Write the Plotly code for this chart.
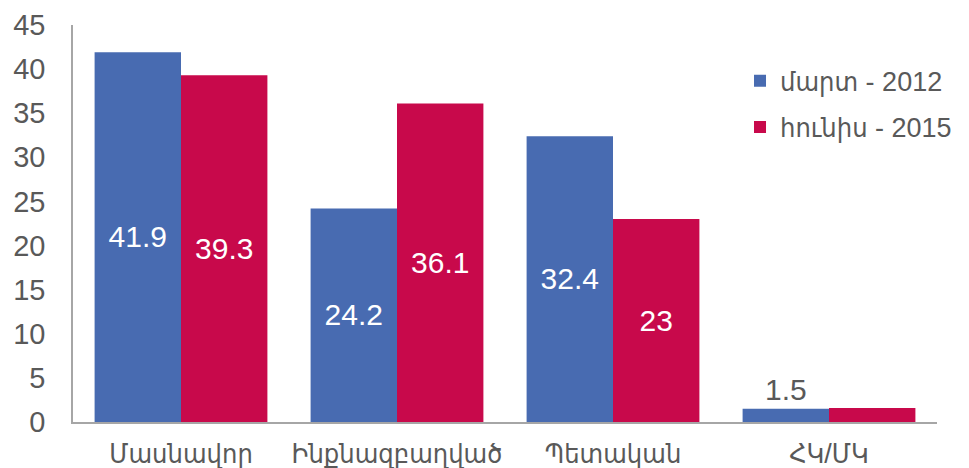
import plotly.graph_objects as go

categories = ["Մասնավոր", "Ինքնազբաղված", "Պետական", "ՀԿ/ՄԿ"]
series_names = ["մարտ - 2012", "հունիս - 2015"]
values_2012 = [41.9, 24.2, 32.4, 1.5]
values_2015 = [39.3, 36.1, 23.0, 1.6]
labels_2012 = ["41.9", "24.2", "32.4", "1.5"]
labels_2015 = ["39.3", "36.1", "23", ""]
y_ticks = [0, 5, 10, 15, 20, 25, 30, 35, 40, 45]

BLUE = "#486BB1"
RED = "#C8094B"
GRAY = "#595959"
FONT = "Liberation Sans, DejaVu Sans, Arial, sans-serif"
FONT_ARM = "Liberation Sans, DejaVu Sans Condensed, DejaVu Sans, sans-serif"

fig = go.Figure()
fig.add_trace(go.Bar(
    x=categories, y=values_2012, name=series_names[0], marker_color=BLUE,
    marker_line_width=0,
    text=labels_2012, textposition=["inside", "inside", "inside", "outside"],
    insidetextanchor="middle",
    insidetextfont=dict(color="white", size=31, family=FONT),
    outsidetextfont=dict(color=GRAY, size=30, family=FONT),
    textangle=0, cliponaxis=False, legendgroup="a",
))
fig.add_trace(go.Bar(
    x=categories, y=values_2015, name=series_names[1], marker_color=RED,
    marker_line_width=0,
    text=labels_2015, textposition="inside",
    insidetextanchor="middle",
    insidetextfont=dict(color="white", size=31, family=FONT),
    textangle=0, cliponaxis=False, legendgroup="b",
))

# page body has an 8px margin, so the figure is sized and placed to compensate
fig.update_layout(
    width=961, height=460,
    margin=dict(l=65, r=32, t=17, b=46),
    paper_bgcolor="white", plot_bgcolor="white",
    barmode="group", bargap=0.2, bargroupgap=0,
    uniformtext=dict(mode="show", minsize=10),
    font=dict(family=FONT, color=GRAY),
    legend=dict(
        x=0.772, y=0.92, xanchor="left", yanchor="top",
        font=dict(size=27, color=GRAY, family=FONT_ARM),
        bgcolor="rgba(0,0,0,0)", traceorder="grouped", tracegroupgap=8,
        itemwidth=30,
    ),
    showlegend=True,
)
fig.update_yaxes(
    range=[0, 45], tickvals=y_ticks, showgrid=False, zeroline=False,
    showline=True, linecolor="#A6A6A6", linewidth=1.5,
    tickfont=dict(size=29, color=GRAY, family=FONT), ticks="",
    ticklabelstandoff=20, automargin=False,
)
fig.update_xaxes(
    showline=True, linecolor="#A6A6A6", linewidth=1.5, showgrid=False,
    tickfont=dict(size=27, color=GRAY, family=FONT_ARM), ticks="",
    ticklabelstandoff=7, automargin=False,
)

fig.write_html("out.html")
